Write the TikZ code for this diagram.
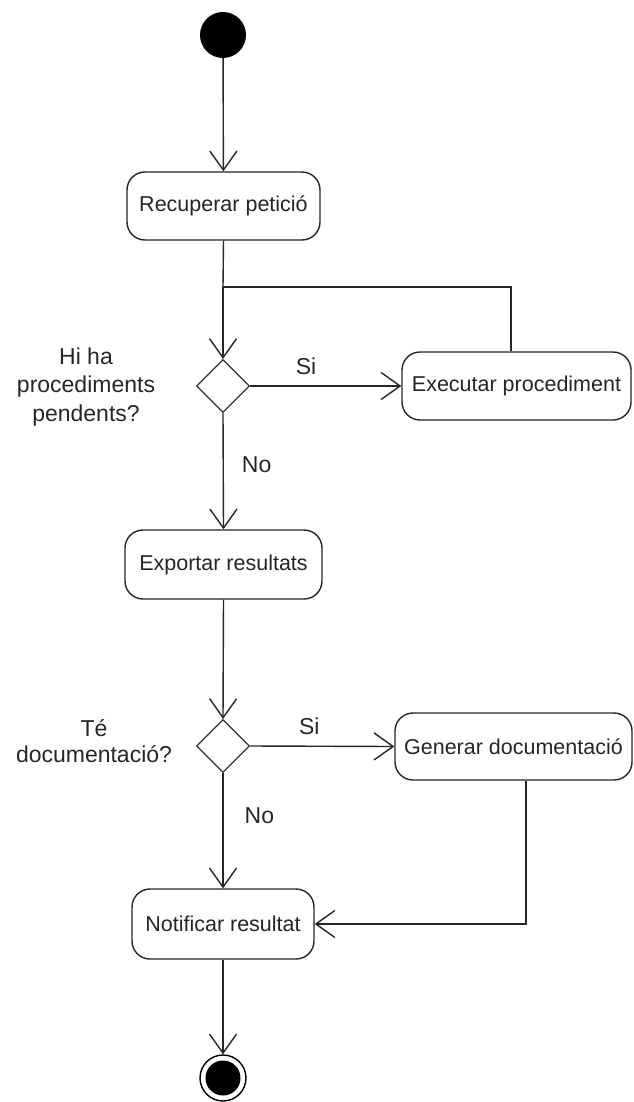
\documentclass[tikz,border=0pt]{standalone}
\usepackage{fontspec}
\setmainfont{Liberation Sans}
\usetikzlibrary{arrows.meta,shapes.geometric}
\begin{document}
\begin{tikzpicture}[x=1pt,y=-1pt,
  every node/.style={font=\fontsize{21.5}{28.5}\selectfont, text=black!85},
  act/.style={draw=black!85, line width=1.4pt, rounded corners=18pt, fill=white, inner sep=0pt},
  dec/.style={draw=black!80, line width=1.2pt, diamond, minimum width=53pt, minimum height=53pt, inner sep=0pt},
  flow/.style={draw=black!85, line width=1.4pt, -{Straight Barb[length=19pt,width=27pt]}},
  plain/.style={draw=black!85, line width=1.4pt},
  lbl/.style={align=center, inner sep=0pt, font=\fontsize{23}{28.5}\selectfont},
  elbl/.style={inner sep=0pt, font=\fontsize{23}{28}\selectfont}
]
\useasboundingbox (0,0) rectangle (633,1102);

\node[circle, fill=black, minimum size=46pt, inner sep=0pt] (start) at (223,35) {};
\node[act, minimum width=193pt, minimum height=68pt] (rec) at (223.5,206) {Recuperar petició};
\coordinate (m1) at (223,287);
\node[dec] (d1) at (223,386) {};
\node[act, minimum width=229pt, minimum height=68pt] (exe) at (516.5,386) {Executar procediment};
\node[act, minimum width=197pt, minimum height=69pt] (exp) at (223.5,564.5) {Exportar resultats};
\node[dec] (d2) at (223,746) {};
\node[act, minimum width=237pt, minimum height=67pt] (gen) at (513.5,746.5) {Generar documentació};
\node[act, minimum width=182pt, minimum height=70pt] (not) at (223,924) {Notificar resultat};
\node[circle, draw=black, line width=1.4pt, minimum size=46pt, inner sep=0pt] (end) at (223,1078) {};
\fill[black] (end.center) circle (17.5);

\node[lbl] (q1) at (86,387) {Hi ha\\procediments\\pendents?};
\node[lbl, font=\fontsize{23}{26.5}\selectfont] (q2) at (94,741) {Té\\documentació?};

\draw[flow] (start) -- (rec);
\draw[plain] (rec.south) -- (m1);
\draw[flow] (m1) -- (d1.north);
\draw[plain] ([xshift=-5.5pt]exe.north) |- (m1);
\draw[flow] (d1.east) -- node[elbl, above=11pt, pos=0.37] (s1) {Si} (exe.west);
\draw[flow] (d1.south) -- node[elbl, right=18pt, pos=0.44] (n1) {No} (exp.north);
\draw[flow] (exp.south) -- (d2.north);
\draw[flow] (d2.east) -- node[elbl, above=11pt, pos=0.41] (s2) {Si} (gen.west);
\draw[flow] (d2.south) -- node[elbl, right=21pt, pos=0.37] (n2) {No} (not.north);
\draw[flow] ([xshift=12.5pt]gen.south) |- (not.east);
\draw[flow] (not) -- (end);
\end{tikzpicture}
\end{document}
